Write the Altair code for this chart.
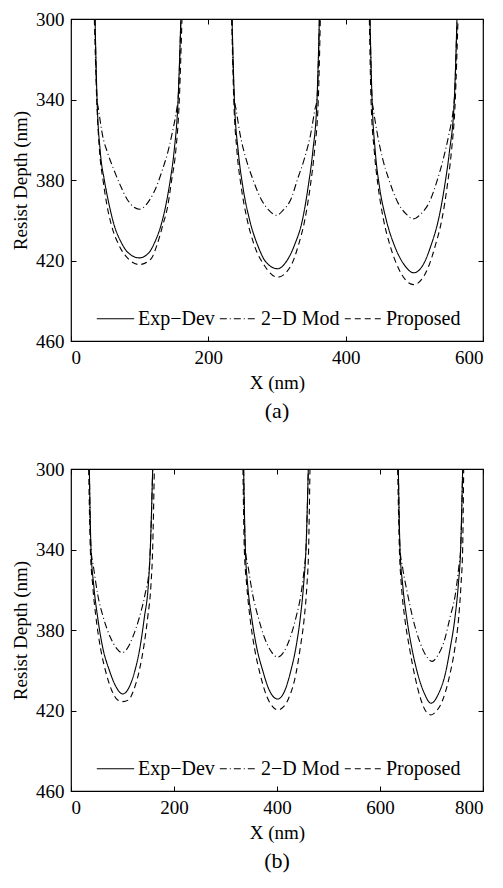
import altair as alt
import pandas as pd

SERIES = ["Exp\u2212Dev", "2\u2212D Mod", "Proposed"]
DASHES = [[1, 0], [7, 3, 1, 3], [6, 4]]

# ---------------- panel (a) ----------------
A_EXP_X = [
    [35.0, 37.9, 42.7, 48.5, 55.8, 63.0, 73.0, 82.5, 99.5, 114.0, 122.0, 131.0, 138.0, 144.6, 150.0, 156.0, 160.0],
    [234.5, 237.9, 243.7, 250.0, 259.7, 271.9, 284.0, 301.0, 313.0, 325.3, 337.4, 345.6, 352.0, 358.3, 361.7],
    [435.4, 438.4, 443.2, 449.0, 458.7, 470.9, 485.0, 499.0, 513.0, 524.3, 535.4, 544.2, 551.0, 558.3, 562.1],
]
A_EXP_D = [
    [300, 339.7, 366.2, 379.9, 392.7, 402.6, 410.9, 415.9, 418.7, 415.9, 410.9, 402.6, 392.7, 379.9, 366.2, 339.7, 300],
    [300, 339.7, 366.2, 382.8, 399.3, 412.5, 420.8, 424.1, 420.8, 412.5, 399.3, 382.8, 366.2, 339.7, 300],
    [300, 339.7, 366.2, 382.8, 399.3, 412.5, 422.0, 426.1, 422.0, 412.5, 399.3, 382.8, 366.2, 339.7, 300],
]
A_MOD_X = [
    [35.0, 37.9, 40.0, 46.0, 53.0, 62.0, 72.0, 81.5, 99.5, 115.5, 125.0, 133.5, 141.0, 146.6, 154.0, 156.0, 160.0],
    [234.5, 237.9, 240.3, 246.6, 254.9, 264.6, 276.7, 288.8, 299.5, 308.3, 320.4, 330.1, 339.8, 348.6, 355.4, 358.3, 361.7],
    [435.4, 438.4, 440.3, 446.6, 453.9, 462.6, 475.7, 487.9, 499.0, 509.7, 521.9, 534.0, 542.2, 550.0, 556.8, 558.3, 562.1],
]
A_MOD_D = [
    [300, 339.7, 344.7, 357.9, 366.2, 374.5, 382.8, 389.4, 394.5, 389.4, 382.8, 374.5, 366.2, 357.9, 344.7, 339.7, 300],
    [300, 339.7, 344.7, 357.9, 369.5, 379.4, 389.4, 395.2, 397.6, 395.2, 389.4, 379.4, 369.5, 357.9, 344.7, 339.7, 300],
    [300, 339.7, 344.7, 357.9, 369.5, 379.4, 391.0, 396.8, 399.3, 396.8, 391.0, 379.4, 369.5, 357.9, 344.7, 339.7, 300],
]
A_PRO_X = [
    [34.0, 37.4, 41.7, 46.6, 52.4, 59.0, 70.0, 83.5, 99.5, 116.5, 125.0, 133.5, 141.0, 146.6, 152.4, 157.8, 161.6],
    [234.0, 237.0, 241.8, 247.6, 256.3, 267.0, 281.6, 301.0, 320.4, 331.1, 340.8, 348.6, 354.4, 360.2, 363.1],
    [434.5, 436.9, 441.8, 447.1, 454.9, 464.6, 477.2, 499.0, 519.4, 530.6, 540.3, 548.0, 553.9, 559.7, 563.6],
]
A_PRO_D = [
    [300, 339.7, 366.2, 379.9, 392.7, 402.6, 412.5, 419.2, 422.0, 419.2, 412.5, 402.6, 392.7, 379.9, 366.2, 339.7, 300],
    [300, 339.7, 366.2, 382.8, 399.3, 412.5, 422.5, 428.3, 422.5, 412.5, 399.3, 382.8, 366.2, 339.7, 300],
    [300, 339.7, 366.2, 382.8, 399.3, 412.5, 424.1, 432.0, 424.1, 412.5, 399.3, 382.8, 366.2, 339.7, 300],
]

# ---------------- panel (b) ----------------
B_EXP_X = [
    [35.6, 38.8, 44.0, 51.8, 61.5, 74.4, 87.4, 100.3, 113.3, 124.3, 134.0, 142.4, 150.2, 154.0, 158.6],
    [335.2, 338.5, 343.0, 350.8, 360.5, 372.1, 385.0, 401.2, 415.5, 427.1, 436.8, 445.3, 451.7, 456.3, 460.8],
    [635.6, 638.8, 644.0, 651.8, 661.5, 673.1, 686.1, 699.0, 713.9, 726.9, 736.6, 745.6, 752.1, 756.6, 760.5],
]
B_EXP_D = [
    [300, 339.5, 357.4, 373.8, 388.6, 400.0, 408.2, 411.8, 408.2, 400.0, 388.6, 373.8, 357.4, 339.5, 300],
    [300, 339.5, 357.4, 373.8, 388.6, 400.0, 409.9, 414.3, 409.9, 400.0, 388.6, 373.8, 357.4, 339.5, 300],
    [300, 339.5, 357.4, 373.8, 388.6, 401.7, 411.5, 416.4, 411.5, 401.7, 388.6, 373.8, 357.4, 339.5, 300],
]
B_MOD_X = [
    [35.6, 38.8, 44.0, 51.8, 62.8, 76.4, 89.3, 99.0, 108.7, 119.7, 132.7, 143.7, 152.1, 154.0, 158.6],
    [335.2, 338.5, 344.3, 352.7, 363.7, 375.4, 389.6, 401.2, 412.9, 425.8, 436.8, 446.5, 453.0, 456.3, 460.8],
    [635.6, 638.8, 644.0, 653.7, 663.4, 676.4, 689.3, 701.0, 712.0, 724.9, 735.9, 746.3, 752.8, 756.6, 760.5],
]
B_MOD_D = [
    [300, 339.5, 349.2, 362.3, 373.8, 383.6, 389.4, 391.3, 389.4, 383.6, 373.8, 362.3, 349.2, 339.5, 300],
    [300, 339.5, 349.2, 362.3, 373.8, 383.6, 391.0, 393.5, 391.0, 383.6, 373.8, 362.3, 349.2, 339.5, 300],
    [300, 339.5, 349.2, 362.3, 373.8, 385.3, 392.7, 395.6, 392.7, 385.3, 373.8, 362.3, 349.2, 339.5, 300],
]
B_PRO_X = [
    [34.3, 37.5, 42.0, 48.5, 57.0, 66.7, 79.0, 90.6, 100.3, 111.3, 121.7, 132.7, 141.1, 148.9, 155.3, 158.6, 161.8],
    [333.9, 336.5, 341.1, 347.5, 356.0, 367.0, 380.5, 391.5, 401.2, 412.9, 423.9, 436.8, 445.3, 453.0, 458.2, 461.4, 464.0],
    [634.3, 637.6, 641.4, 647.9, 657.0, 668.0, 679.6, 689.3, 699.0, 708.7, 721.7, 734.6, 745.6, 752.8, 757.3, 760.5, 762.5],
]
B_PRO_D = [
    [300, 339.5, 357.4, 373.8, 388.6, 400.0, 409.9, 414.8, 415.6, 414.8, 409.9, 400.0, 388.6, 373.8, 357.4, 339.5, 300],
    [300, 339.5, 357.4, 373.8, 388.6, 401.7, 413.2, 418.1, 419.7, 418.1, 413.2, 401.7, 388.6, 373.8, 357.4, 339.5, 300],
    [300, 339.5, 357.4, 373.8, 388.6, 403.3, 414.8, 420.5, 422.2, 420.5, 414.8, 403.3, 388.6, 373.8, 357.4, 339.5, 300],
]

Y_TICKS = [300, 340, 380, 420, 460]
A_X_TICKS = [0, 200, 400, 600]
B_X_TICKS = [0, 200, 400, 600, 800]

FONT = "Liberation Serif"
W, H = 412, 322


def build_frame(groups):
    rows = []
    for name, xs_all, ds_all in groups:
        for t, (xs, ds) in enumerate(zip(xs_all, ds_all)):
            for i, (x, d) in enumerate(zip(xs, ds)):
                rows.append({"series": name, "trough": f"{name}-{t}", "i": i, "x": x, "depth": d})
    return pd.DataFrame(rows)


def panel(df, xmax, xticks, label, lx, ly):
    xs = alt.Scale(domain=[0, xmax], nice=False, zero=False)
    ys = alt.Scale(domain=[300, 460], reverse=True, nice=False, zero=False)
    common_axis = dict(tickSize=5, offset=-5, domain=False, tickColor="black",
                       tickWidth=1, grid=False, labelFont=FONT, labelFontSize=19,
                       labelColor="black", titleFont=FONT, titleFontSize=19,
                       titleFontWeight="normal", titleColor="black")
    lines = alt.Chart(df).mark_line(clip=True, color="black", strokeWidth=1.1,
                                    interpolate="monotone").encode(
        x=alt.X("x:Q", scale=xs, axis=alt.Axis(values=xticks, title="X (nm)", orient="bottom",
                                                labelPadding=7, titlePadding=6, **common_axis)),
        y=alt.Y("depth:Q", scale=ys, axis=alt.Axis(values=Y_TICKS, title="Resist Depth (nm)",
                                                    orient="left", labelPadding=7, titlePadding=5,
                                                    **common_axis)),
        detail="trough:N",
        order="i:Q",
        strokeDash=alt.StrokeDash(
            "series:N",
            scale=alt.Scale(domain=SERIES, range=DASHES),
            legend=alt.Legend(orient="none", direction="horizontal", title=None,
                              legendX=lx, legendY=ly, symbolType="stroke",
                              symbolSize=1400, symbolStrokeColor="black",
                              symbolStrokeWidth=1.1, labelFont=FONT, labelFontSize=20,
                              labelColor="black", labelOffset=3, columnPadding=2,
                              labelLimit=200),
        ),
    )
    ghost = alt.Chart(df).mark_line(clip=True, strokeOpacity=0).encode(
        x=alt.X("x:Q", scale=xs, axis=alt.Axis(values=xticks, title=None, labels=False,
                                                orient="top", **common_axis)),
        y=alt.Y("depth:Q", scale=ys, axis=alt.Axis(values=Y_TICKS, title=None, labels=False,
                                                    orient="right", **common_axis)),
        detail="trough:N",
    )
    return alt.layer(lines, ghost).resolve_scale(x="independent", y="independent").resolve_axis(
        x="independent", y="independent").properties(
        width=W, height=H,
        title=alt.TitleParams(label, orient="bottom", anchor="middle", font=FONT,
                              fontSize=22, fontWeight="normal", color="black", offset=9),
    )


df_a = build_frame([(SERIES[0], A_EXP_X, A_EXP_D), (SERIES[1], A_MOD_X, A_MOD_D),
                    (SERIES[2], A_PRO_X, A_PRO_D)])
df_b = build_frame([(SERIES[0], B_EXP_X, B_EXP_D), (SERIES[1], B_MOD_X, B_MOD_D),
                    (SERIES[2], B_PRO_X, B_PRO_D)])

top = panel(df_a, 600, A_X_TICKS, "(a)", 25, 280)
bottom = panel(df_b, 800, B_X_TICKS, "(b)", 25, 280)

chart = alt.vconcat(top, bottom, spacing=36).resolve_scale(
    strokeDash="independent"
).resolve_legend(
    strokeDash="independent"
).properties(
    padding={"left": 2, "top": 1, "right": 5, "bottom": 0}
).configure_view(
    stroke="black", strokeWidth=1.2
)

chart.save("out.html", embed_options={"renderer": "svg", "actions": False})
